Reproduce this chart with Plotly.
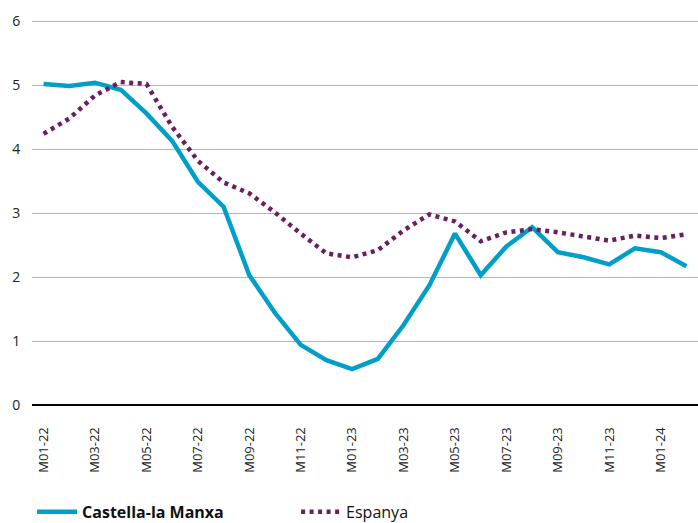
import plotly.graph_objects as go

# monthly series, Jan-22 to Feb-24
months = ["M01-22", "M02-22", "M03-22", "M04-22", "M05-22", "M06-22",
          "M07-22", "M08-22", "M09-22", "M10-22", "M11-22", "M12-22",
          "M01-23", "M02-23", "M03-23", "M04-23", "M05-23", "M06-23",
          "M07-23", "M08-23", "M09-23", "M10-23", "M11-23", "M12-23",
          "M01-24", "M02-24"]

castella = [5.02, 4.99, 5.04, 4.93, 4.56, 4.13, 3.49, 3.10, 2.03, 1.44,
            0.94, 0.70, 0.56, 0.72, 1.25, 1.87, 2.68, 2.03, 2.48, 2.78,
            2.39, 2.31, 2.20, 2.45, 2.39, 2.17]

espanya = [4.24, 4.48, 4.84, 5.05, 5.02, 4.35, 3.82, 3.48, 3.31, 3.01,
           2.68, 2.37, 2.31, 2.42, 2.73, 2.98, 2.87, 2.56, 2.70, 2.75,
           2.70, 2.64, 2.57, 2.65, 2.61, 2.67]

tick_labels = months[::2]
y_ticks = [0, 1, 2, 3, 4, 5, 6]

FONT = "Open Sans"

fig = go.Figure()
fig.add_trace(go.Scatter(
    x=months, y=castella, mode="lines", name="<b>Castella-la Manxa</b>",
    line=dict(color="#009fc8", width=4.5)))
fig.add_trace(go.Scatter(
    x=months, y=espanya, mode="lines", name="Espanya",
    line=dict(color="#6b1e60", width=4.5, dash="4px,4.5px")))

fig.update_layout(
    width=698, height=523,
    margin=dict(l=32, r=0, t=20, b=118, autoexpand=False),
    plot_bgcolor="white", paper_bgcolor="white",
    font=dict(family=FONT, color="#222222"),
    showlegend=True,
    legend=dict(orientation="h", x=0.046, xanchor="left", xref="container",
                y=0.054, yanchor="top", yref="container",
                font=dict(size=16, color="#111111"),
                entrywidth=209, itemwidth=40,
                bgcolor="rgba(0,0,0,0)"),
)
fig.update_xaxes(
    type="category", range=[-0.45, 25.45], automargin=False,
    tickmode="array", tickvals=tick_labels, ticktext=tick_labels,
    tickangle=-90, tickfont=dict(size=13, color="#222222"),
    ticks="outside", ticklen=16, tickcolor="rgba(0,0,0,0)",
    showgrid=False, showline=False, zeroline=False)
fig.update_yaxes(
    range=[0, 6.02], tickvals=y_ticks, automargin=False,
    tickfont=dict(size=14, color="#222222"),
    ticks="outside", ticklen=8, tickcolor="rgba(0,0,0,0)",
    showgrid=True, gridcolor="#b4b4b4", gridwidth=1.2,
    zeroline=True, zerolinecolor="#000000", zerolinewidth=1.5,
    showline=False)

# drop the page's default body margin so the figure fills the window
fig.write_html("out.html", config={"displayModeBar": False},
               post_script="document.body.style.margin='0px';")
